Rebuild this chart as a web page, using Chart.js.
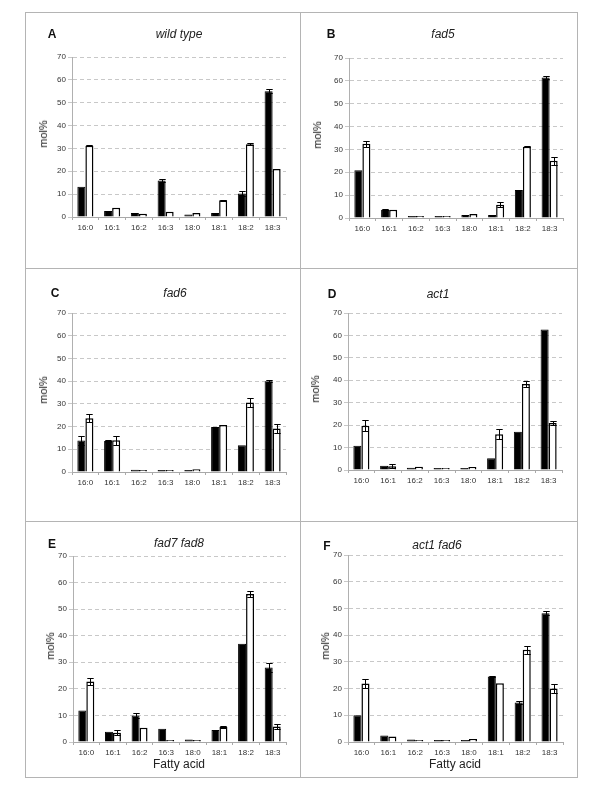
<!DOCTYPE html>
<html lang="en">
<head>
<meta charset="UTF-8">
<title>Fatty acid composition</title>
<script src="https://cdn.jsdelivr.net/npm/chart.js"></script>
<style>
  body { margin: 0; width: 600px; height: 798px; position: relative; background: #fff;
         font-family: "Liberation Sans", Arial, sans-serif; overflow: hidden; }
  .line { position: absolute; background: #b4b4b4; }
  .panel { position: absolute; }
  .lbl { position: absolute; transform: translate(-50%, -50%); white-space: nowrap; color: #111; }
  .letter { font-weight: bold; font-size: 12px; }
  .title { font-style: italic; font-size: 12px; color: #222; }
  .ylab { font-size: 11px; transform: translate(-50%, -50%) rotate(-90deg); color: #222; }
  .xlab { font-size: 12px; color: #222; }
</style>
</head>
<body>
<script>
// fatty acid species on the x axis
const fattyAcids = ["16:0", "16:1", "16:2", "16:3", "18:0", "18:1", "18:2", "18:3"];
const yTicks = [0, 10, 20, 30, 40, 50, 60, 70];

// A - wild type
const wtBlack    = [13.2, 2.6, 1.8, 16.0, 1.1, 1.8, 10.3, 55.0];
const wtBlackErr = [0,    0,   0,   0.8,  0,   0,   1.0,  0.8];
const wtWhite    = [31.2, 4.0, 1.4, 2.3,  1.8, 7.3, 31.8, 21.0];
const wtWhiteErr = [0.2,  0,   0,   0,    0,   0.2, 0.4,  0];

// B - fad5
const fad5Black    = [20.9, 3.6, 0.9, 0.1, 1.3, 1.3, 12.2, 61.5];
const fad5BlackErr = [0,    0.2, 0,   0,   0,   0,   0,    0.5];
const fad5White    = [32.5, 3.6, 0.15, 0.1, 1.8, 5.8, 31.2, 25.0];
const fad5WhiteErr = [1.3,  0,   0,    0,   0,   1.2, 0.3,  1.8];

// C - fad6
const fad6Black    = [13.9, 13.7, 1.0, 0.6, 0.9, 19.8, 11.8, 40.0];
const fad6BlackErr = [1.8,  0.3,  0,   0,   0,   0,    0,    0.3];
const fad6White    = [23.7, 14.0, 0.2, 0.3, 1.2, 20.7, 30.6, 19.1];
const fad6WhiteErr = [1.7,  2.0,  0,   0,   0,   0.2,  1.9,  2.0];

// D - act1
const act1Black    = [10.8, 1.9, 1.0, 0.7, 0.6, 5.2,  17.1, 62.6];
const act1BlackErr = [0,    0,   0,   0,   0,   0,    0,    0];
const act1White    = [19.7, 1.7, 1.5, 0.5, 1.3, 15.9, 38.3, 21.0];
const act1WhiteErr = [2.4,  0.8, 0,   0,   0,   2.2,  1.2,  0.9];

// E - fad7 fad8
const fad78Black    = [11.9, 3.9, 10.0, 5.0, 0.9, 4.5,  37.0, 28.0];
const fad78BlackErr = [0,    0,   0.8,  0,   0,   0,    0,    1.6];
const fad78White    = [22.8, 3.5, 5.4,  0.1, 0.75, 5.7, 55.7, 5.8];
const fad78WhiteErr = [1.2,  0.9, 0,    0,   0,   0.3,  1.3,  0.9];

// F - act1 fad6
const act1fad6Black    = [10.0, 2.4, 0.9, 0.4, 0.75, 24.5, 14.8, 48.2];
const act1fad6BlackErr = [0,    0,   0,   0,   0,    0.3,  0.4,  0.7];
const act1fad6White    = [21.9, 2.1, 0.1, 0.1, 1.1,  22.0, 34.5, 20.0];
const act1fad6WhiteErr = [1.6,  0,   0,   0,   0,    0,    1.4,  1.6];

// panel layout: box = frame cell, plot = chart area (page px)
const panels = [
  { letter: "A", name: "wild type", black: wtBlack, blackErr: wtBlackErr, white: wtWhite, whiteErr: wtWhiteErr,
    box: [25, 12, 300, 268], plot: [72, 57, 286, 217], letterPos: [52, 34], titlePos: [179, 34], yLabX: 43, xLab: null },
  { letter: "B", name: "fad5", black: fad5Black, blackErr: fad5BlackErr, white: fad5White, whiteErr: fad5WhiteErr,
    box: [300, 12, 578, 268], plot: [349, 58, 563, 218], letterPos: [331, 34], titlePos: [443, 34], yLabX: 317, xLab: null },
  { letter: "C", name: "fad6", black: fad6Black, blackErr: fad6BlackErr, white: fad6White, whiteErr: fad6WhiteErr,
    box: [25, 268, 300, 521], plot: [72, 313, 286, 472], letterPos: [55, 293], titlePos: [175, 293], yLabX: 43, xLab: null },
  { letter: "D", name: "act1", black: act1Black, blackErr: act1BlackErr, white: act1White, whiteErr: act1WhiteErr,
    box: [300, 268, 578, 521], plot: [348, 313, 562, 470], letterPos: [332, 294], titlePos: [438, 294], yLabX: 315, xLab: null },
  { letter: "E", name: "fad7 fad8", black: fad78Black, blackErr: fad78BlackErr, white: fad78White, whiteErr: fad78WhiteErr,
    box: [25, 521, 300, 777], plot: [73, 556, 286, 742], letterPos: [52, 544], titlePos: [179, 543], yLabX: 50, xLab: [179, 764] },
  { letter: "F", name: "act1 fad6", black: act1fad6Black, blackErr: act1fad6BlackErr, white: act1fad6White, whiteErr: act1fad6WhiteErr,
    box: [300, 521, 578, 777], plot: [348, 555, 563, 742], letterPos: [327, 546], titlePos: [437, 545], yLabX: 325, xLab: [455, 764] }
];

const Y_W = 24;   // fixed y axis width
const X_H = 20;   // fixed x axis height

// frame lines
function addLine(x, y, w, h) {
  const d = document.createElement("div");
  d.className = "line";
  Object.assign(d.style, { left: x + "px", top: y + "px", width: w + "px", height: h + "px" });
  document.body.appendChild(d);
}
addLine(25, 12, 553, 1);
addLine(25, 777, 553, 1);
addLine(25, 12, 1, 766);
addLine(577, 12, 1, 766);
addLine(300, 12, 1, 766);
addLine(25, 268, 553, 1);
addLine(25, 521, 553, 1);

function addText(cls, txt, x, y) {
  const d = document.createElement("div");
  d.className = "lbl " + cls;
  d.textContent = txt;
  d.style.left = x + "px";
  d.style.top = y + "px";
  document.body.appendChild(d);
}

// error bars drawn on top of the bars
const errorBars = {
  id: "errorBars",
  afterDatasetsDraw(chart) {
    const ctx = chart.ctx;
    const y = chart.scales.y;
    ctx.save();
    ctx.strokeStyle = "#000";
    ctx.lineWidth = 1;
    chart.data.datasets.forEach((ds, i) => {
      chart.getDatasetMeta(i).data.forEach((bar, j) => {
        const e = ds.errors[j];
        if (!e) return;
        const v = ds.data[j];
        const x = Math.round(bar.x) + 0.5;
        const top = Math.round(y.getPixelForValue(v + e)) + 0.5;
        const bot = Math.round(y.getPixelForValue(Math.max(v - e, 0))) + 0.5;
        const half = bar.width * 0.4;
        ctx.beginPath();
        ctx.moveTo(x, top); ctx.lineTo(x, bot);
        ctx.moveTo(x - half, top); ctx.lineTo(x + half, top);
        ctx.moveTo(x - half, bot); ctx.lineTo(x + half, bot);
        ctx.stroke();
      });
    });
    ctx.restore();
  }
};

Chart.defaults.font.family = '"Liberation Sans", Arial, sans-serif';

panels.forEach(p => {
  const [bx, by, br, bb] = p.box;
  const [l, t, r, b] = p.plot;

  const wrap = document.createElement("div");
  wrap.className = "panel";
  wrap.style.left = bx + "px";
  wrap.style.top = by + "px";
  const canvas = document.createElement("canvas");
  canvas.width = br - bx;
  canvas.height = bb - by;
  wrap.appendChild(canvas);
  document.body.appendChild(wrap);

  addText("letter", p.letter, p.letterPos[0], p.letterPos[1]);
  addText("title", p.name, p.titlePos[0], p.titlePos[1]);
  addText("ylab", "mol%", p.yLabX, (t + b) / 2 - 3);
  if (p.xLab) addText("xlab", "Fatty acid", p.xLab[0], p.xLab[1]);

  new Chart(canvas, {
    type: "bar",
    data: {
      labels: fattyAcids,
      datasets: [
        { data: p.black, errors: p.blackErr, backgroundColor: "#000", borderColor: "#000", borderWidth: 1 },
        { data: p.white, errors: p.whiteErr, backgroundColor: "#fff", borderColor: "#000", borderWidth: 1.5 }
      ]
    },
    options: {
      responsive: false,
      animation: false,
      layout: {
        padding: { left: l - bx - Y_W, top: t - by, right: br - r, bottom: bb - b - X_H }
      },
      datasets: { bar: { barPercentage: 1, categoryPercentage: 0.6, minBarLength: 2 } },
      plugins: { legend: { display: false }, tooltip: { enabled: false } },
      scales: {
        x: {
          afterFit(s) { s.height = X_H; },
          offset: true,
          grid: { offset: true, drawOnChartArea: false, drawTicks: true, tickLength: 3, color: "#aaa" },
          border: { color: "#a8a8a8" },
          ticks: { font: { size: 8 }, color: "#333", maxRotation: 0, autoSkip: false, padding: 3 }
        },
        y: {
          afterFit(s) { s.width = Y_W; },
          min: 0, max: 70,
          afterBuildTicks(s) { s.ticks = yTicks.map(v => ({ value: v })); },
          grid: { color: "#c8c8c8", tickLength: 4 },
          border: { color: "#b0b0b0", dash: [4, 3] },
          ticks: { font: { size: 8 }, color: "#333", padding: 2 }
        }
      }
    },
    plugins: [errorBars]
  });
});
</script>
</body>
</html>
